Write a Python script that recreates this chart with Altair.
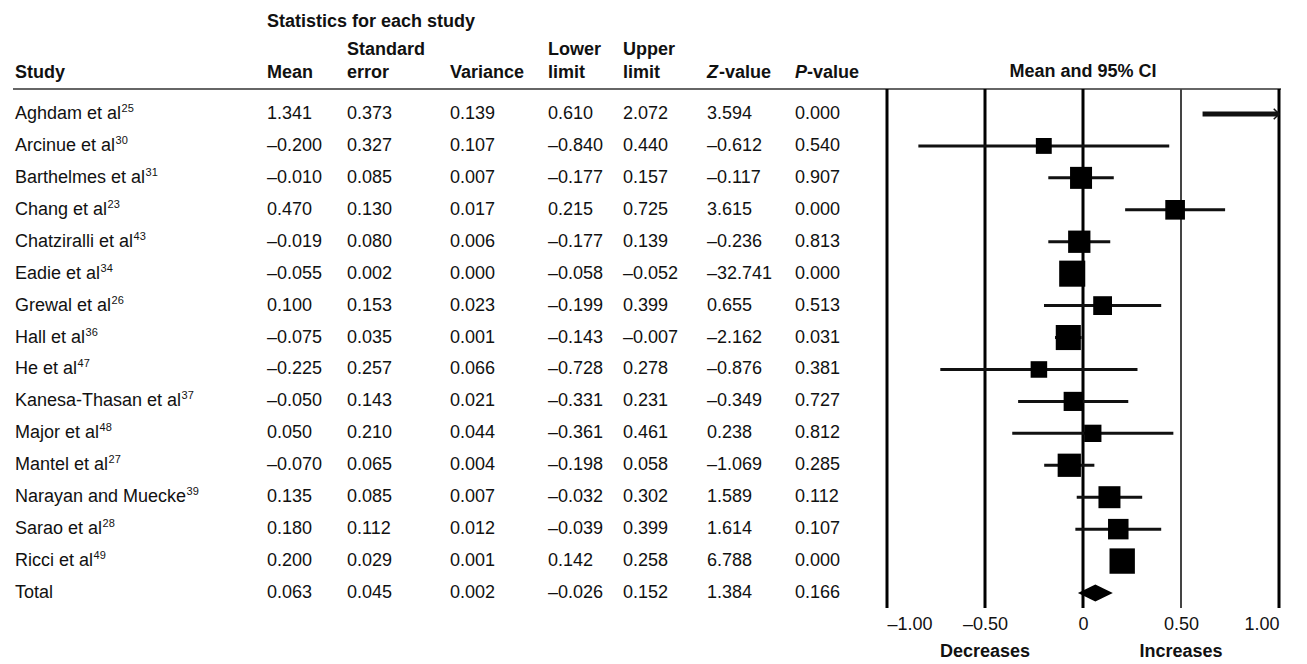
import altair as alt
import pandas as pd

# ---------------- data ----------------
study_names = ["Aghdam et al", "Arcinue et al", "Barthelmes et al", "Chang et al",
               "Chatziralli et al", "Eadie et al", "Grewal et al", "Hall et al",
               "He et al", "Kanesa-Thasan et al", "Major et al", "Mantel et al",
               "Narayan and Muecke", "Sarao et al", "Ricci et al", "Total"]
study_refs = ["25", "30", "31", "23", "43", "34", "26", "36", "47", "37", "48", "27",
              "39", "28", "49", ""]
mean = [1.341, -0.200, -0.010, 0.470, -0.019, -0.055, 0.100, -0.075, -0.225, -0.050,
        0.050, -0.070, 0.135, 0.180, 0.200, 0.063]
std_err = [0.373, 0.327, 0.085, 0.130, 0.080, 0.002, 0.153, 0.035, 0.257, 0.143,
           0.210, 0.065, 0.085, 0.112, 0.029, 0.045]
variance = [0.139, 0.107, 0.007, 0.017, 0.006, 0.000, 0.023, 0.001, 0.066, 0.021,
            0.044, 0.004, 0.007, 0.012, 0.001, 0.002]
lower = [0.610, -0.840, -0.177, 0.215, -0.177, -0.058, -0.199, -0.143, -0.728, -0.331,
         -0.361, -0.198, -0.032, -0.039, 0.142, -0.026]
upper = [2.072, 0.440, 0.157, 0.725, 0.139, -0.052, 0.399, -0.007, 0.278, 0.231,
         0.461, 0.058, 0.302, 0.399, 0.258, 0.152]
z_value = [3.594, -0.612, -0.117, 3.615, -0.236, -32.741, 0.655, -2.162, -0.876, -0.349,
           0.238, -1.069, 1.589, 1.614, 6.788, 1.384]
p_value = [0.000, 0.540, 0.907, 0.000, 0.813, 0.000, 0.513, 0.031, 0.381, 0.727,
           0.812, 0.285, 0.112, 0.107, 0.000, 0.166]
ref_thick = [-1.0, -0.5, 0.0, 1.0]
ref_thin = [0.5]
tick_values = [-1.0, -0.5, 0.0, 0.5, 1.0]
direction_labels = ["Decreases", "Increases"]
direction_at = [-0.5, 0.5]


def fmt(v):
    return ("–" if v < 0 else "") + f"{abs(v):.3f}"


df = pd.DataFrame({
    "study": study_names,
    "row": list(range(len(study_names))),
    "mean": mean, "se": std_err, "variance": variance,
    "lower": lower, "upper": upper, "z": z_value, "p": p_value,
})
for c in ["mean", "se", "variance", "lower", "upper", "z", "p"]:
    df[c + "_s"] = df[c].map(fmt)

n = len(study_names)
total_idx = n - 1

# ---------------- layout / style ----------------
FONT = "Liberation Sans"
FS = 18
SUP_FS = 11
INK = "#111111"
W, H = 1291, 519
xsc = alt.Scale(domain=[-1, 1], range=[879, 1271])
ysc = alt.Scale(domain=[0, n - 1], range=[25, 504])

# Arial / Liberation Sans advance widths (1/1000 em) to place superscripts after names
ADV = {" ": 278, "-": 333, "a": 556, "b": 556, "c": 500, "d": 556, "e": 556, "f": 278,
       "g": 556, "h": 556, "i": 222, "j": 222, "k": 500, "l": 222, "m": 833, "n": 556,
       "o": 556, "p": 556, "q": 556, "r": 333, "s": 500, "t": 278, "u": 556, "v": 500,
       "w": 722, "x": 500, "y": 500, "z": 500, "A": 667, "B": 667, "C": 722, "D": 722,
       "E": 667, "G": 778, "H": 722, "K": 667, "M": 833, "N": 722, "R": 722, "S": 667,
       "T": 611}


def text_width(s, size):
    return sum(ADV.get(ch, 556) for ch in s) * size / 1000.0


AX = alt.Axis(values=tick_values, ticks=False, domain=False, grid=False,
              labelExpr="datum.value == 0 ? '0' : (datum.value < 0 ? '–' : '') + format(abs(datum.value), '.2f')",
              labelFontSize=FS, labelFont=FONT, labelColor=INK, labelPadding=7, title=None)


def xq(field):
    return alt.X(field, type="quantitative", scale=xsc, axis=AX)


def yq(field):
    return alt.Y(field, type="quantitative", scale=ysc, axis=None)


layers = []

# table body
STUDY_X = 7
col_x = {"study": STUDY_X, "mean_s": 259, "se_s": 339, "variance_s": 442,
         "lower_s": 540, "upper_s": 615, "z_s": 699, "p_s": 787}
for field, xpos in col_x.items():
    layers.append(
        alt.Chart(df).mark_text(align="left", baseline="middle", fontSize=FS,
                                font=FONT, color=INK)
        .encode(x=alt.value(xpos), y=yq("row"), text=alt.Text(f"{field}:N"))
    )

# reference superscripts
for i, (name, ref) in enumerate(zip(study_names, study_refs)):
    if not ref:
        continue
    layers.append(
        alt.Chart(pd.DataFrame({"row": [i], "t": [ref]})).mark_text(
            align="left", baseline="middle", fontSize=SUP_FS, font=FONT, color=INK, dy=-5
        ).encode(x=alt.value(STUDY_X + text_width(name, FS) + 0.5), y=yq("row"), text="t:N")
    )


def header(txt, xpos, ypos, italic=False):
    return alt.Chart(pd.DataFrame({"t": [txt]})).mark_text(
        align="left", baseline="middle", fontSize=FS, font=FONT, fontWeight="bold",
        fontStyle="italic" if italic else "normal", color=INK
    ).encode(text="t:N", x=alt.value(xpos), y=alt.value(ypos))


layers += [
    header("Statistics for each study", 259, -67),
    header("Standard", 339, -39),
    header("Lower", 540, -39),
    header("Upper", 615, -39),
    header("Study", 7, -16),
    header("Mean", 259, -16),
    header("error", 339, -16),
    header("Variance", 442, -16),
    header("limit", 540, -16),
    header("limit", 615, -16),
    header("Z", 699, -16, italic=True),
    header("-value", 711, -16),
    header("P", 787, -16, italic=True),
    header("-value", 799, -16),
]

# header underline / top border
layers.append(
    alt.Chart(pd.DataFrame({"a": [0]})).mark_rule(color="#333333", strokeWidth=1.5)
    .encode(x=alt.value(5), x2=alt.value(1273), y=alt.value(0))
)

# column title of forest panel
layers.append(
    alt.Chart(pd.DataFrame({"t": ["Mean and 95% CI"], "v": [0.0]})).mark_text(
        align="center", baseline="middle", fontSize=FS, font=FONT, fontWeight="bold", color=INK
    ).encode(x=xq("v"), y=alt.value(-17), text="t:N")
)

# vertical reference lines
layers.append(
    alt.Chart(pd.DataFrame({"v": ref_thick})).mark_rule(color="#000000", strokeWidth=3)
    .encode(x=xq("v"))
)
layers.append(
    alt.Chart(pd.DataFrame({"v": ref_thin})).mark_rule(color="#444444", strokeWidth=2)
    .encode(x=xq("v"))
)

studies_only = alt.Chart(df).transform_filter(f"datum.row < {total_idx}")

# CI lines (clipped to axis range); the truncated one drawn heavier as in the source
layers.append(
    studies_only.transform_calculate(lo="max(datum.lower, -1)", hi="min(datum.upper, 1)")
    .mark_rule(color=INK)
    .encode(x=xq("lo"), x2=alt.X2("hi:Q"), y=yq("row"),
            strokeWidth=alt.condition("datum.upper > 1", alt.value(5), alt.value(3)))
)

# arrow for CI running off the right edge
layers.append(
    studies_only.transform_filter("datum.upper > 1").transform_calculate(hi="1")
    .mark_point(shape="M-1,-1L0,0L-1,1", filled=False, size=110, strokeWidth=1.5,
                color=INK, opacity=1)
    .encode(x=xq("hi"), y=yq("row"))
)

# study squares (size from inverse-variance weight)
layers.append(
    studies_only.transform_filter("datum.mean <= 1")
    .transform_calculate(weight="1 / (datum.se * datum.se + 0.01)")
    .mark_square(color="#000000", opacity=1, filled=True)
    .encode(x=xq("mean"), y=yq("row"),
            size=alt.Size("weight:Q", scale=alt.Scale(domain=[8, 100], range=[250, 680]),
                          legend=None))
)

# pooled diamond
diamond = pd.DataFrame({
    "x": [lower[total_idx], mean[total_idx], upper[total_idx]],
    "row": [total_idx] * 3,
    "d": [0, 1, 0],
})
layers.append(
    alt.Chart(diamond).transform_calculate(y1="datum.row - datum.d * 0.27",
                                           y2="datum.row + datum.d * 0.27")
    .mark_area(color="#000000", orient="vertical", opacity=1)
    .encode(x=xq("x"), y=yq("y1"), y2=alt.Y2("y2:Q"))
)

# direction labels
layers.append(
    alt.Chart(pd.DataFrame({"t": direction_labels, "v": direction_at})).mark_text(
        align="center", baseline="middle", fontSize=FS, font=FONT, fontWeight="bold", color=INK
    ).encode(x=xq("v"), y=alt.value(563), text="t:N")
)

chart = alt.layer(*layers).properties(
    width=W, height=H,
    padding={"left": 0, "top": 81, "right": 0, "bottom": 56},
    autosize=alt.AutoSizeParams(type="none"),
    background="white",
).configure_view(stroke=None)

chart.save("out.html", embed_options={"renderer": "svg", "actions": False})
